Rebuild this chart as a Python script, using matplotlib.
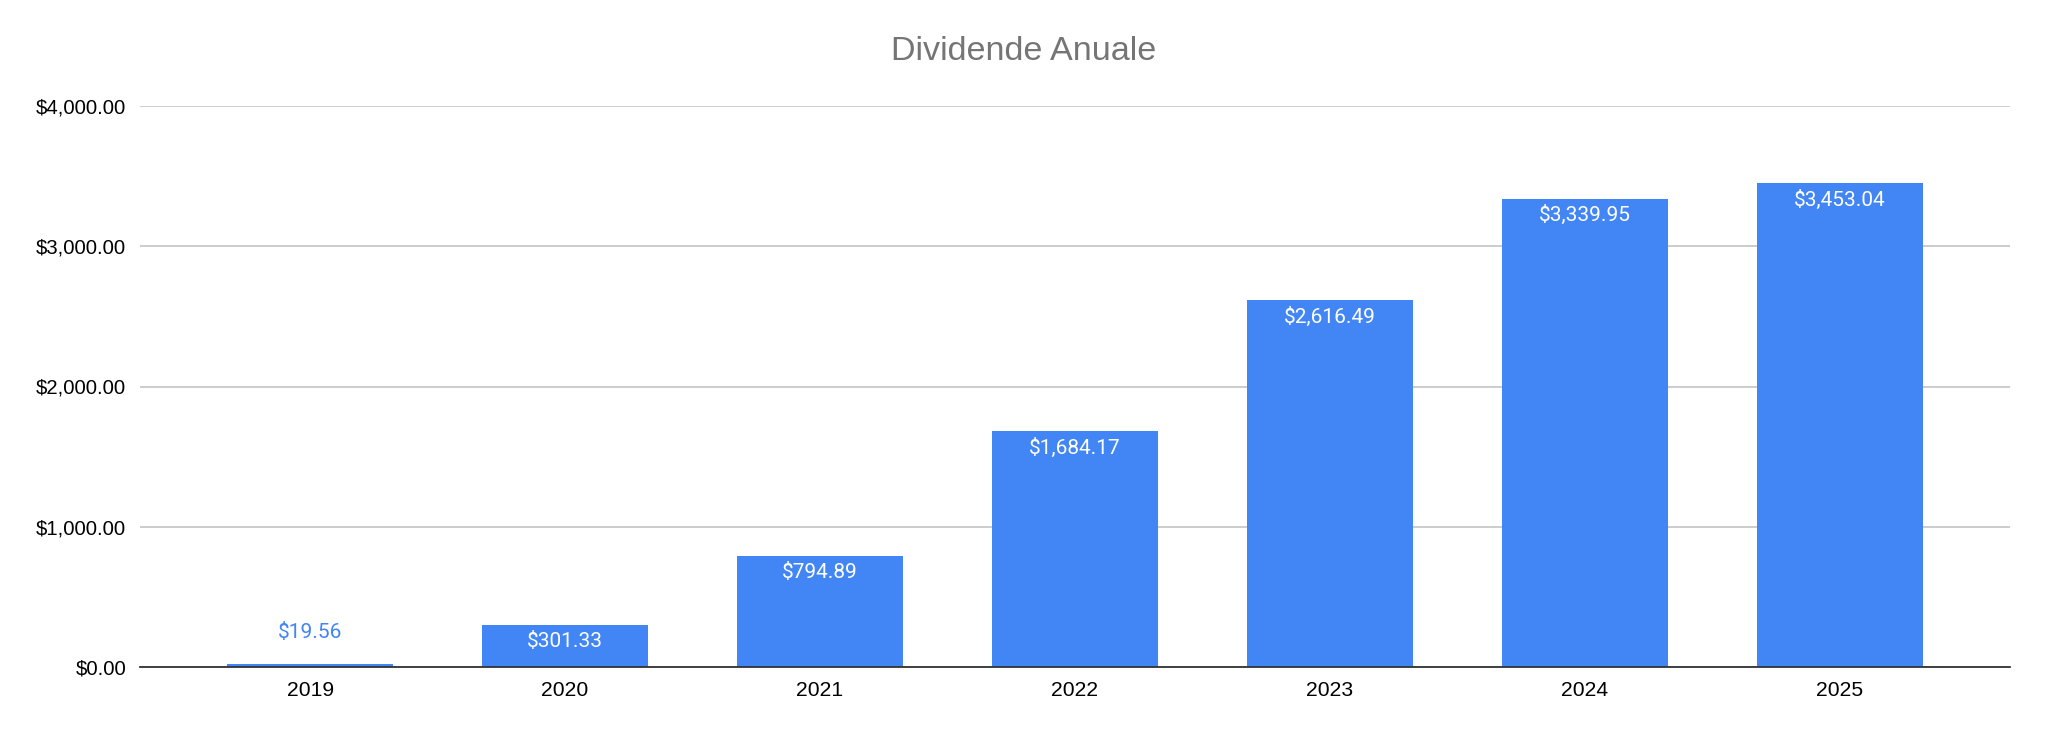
import matplotlib
matplotlib.use("Agg")
import matplotlib.pyplot as plt
from matplotlib.ticker import FuncFormatter

years = ["2019", "2020", "2021", "2022", "2023", "2024", "2025"]
dividends = [19.56, 301.33, 794.89, 1684.17, 2616.49, 3339.95, 3453.04]
yticks = [0, 1000, 2000, 3000, 4000]
title = "Dividende Anuale"

BLUE = "#4285F4"

fig = plt.figure(figsize=(20.48, 7.34), dpi=100)
ax = fig.add_axes([140/2048, 67/734, 1870/2048, 561/734])

x = list(range(len(years)))
bars = ax.bar(x, dividends, width=0.651, color=BLUE, zorder=3)

ax.set_xlim(-0.667, 6.667)
ax.set_ylim(0, 4000)
ax.set_yticks(yticks)
ax.yaxis.set_major_formatter(FuncFormatter(lambda v, p: f"${v:,.2f}"))
ax.set_xticks(x)
ax.set_xticklabels(years)

for s in ["top", "right", "left"]:
    ax.spines[s].set_visible(False)
ax.spines["bottom"].set_color("#333333")
ax.spines["bottom"].set_linewidth(1.3)
ax.spines["bottom"].set_zorder(4)
ax.grid(axis="y", color="#cccccc", linewidth=1.4, zorder=0)
ax.tick_params(axis="y", length=0, labelsize=14.6, colors="#000000", pad=10)
ax.tick_params(axis="x", length=0, labelsize=15.2, colors="#000000", pad=10)
for lab in ax.get_xticklabels() + ax.get_yticklabels():
    lab.set_fontfamily(["Liberation Sans", "DejaVu Sans"])

# data labels
for xi, v in zip(x, dividends):
    if v > 150:
        ax.annotate(f"${v:,.2f}", (xi, v), xytext=(0, -12), textcoords="offset points",
                    ha="center", va="center", color="white", fontsize=15,
                    family=["Roboto", "DejaVu Sans"], zorder=5)
    else:
        ax.annotate(f"${v:,.2f}", (xi, v), xytext=(0, 23), textcoords="offset points",
                    ha="center", va="center", color=BLUE, fontsize=15,
                    family=["Roboto", "DejaVu Sans"], zorder=5)

fig.text(0.5, 1 - 51/734, title, ha="center", va="center", fontsize=24.6,
         color="#757575", family=["Liberation Sans", "DejaVu Sans"])

fig.savefig("out.png", dpi=100, facecolor="white")
